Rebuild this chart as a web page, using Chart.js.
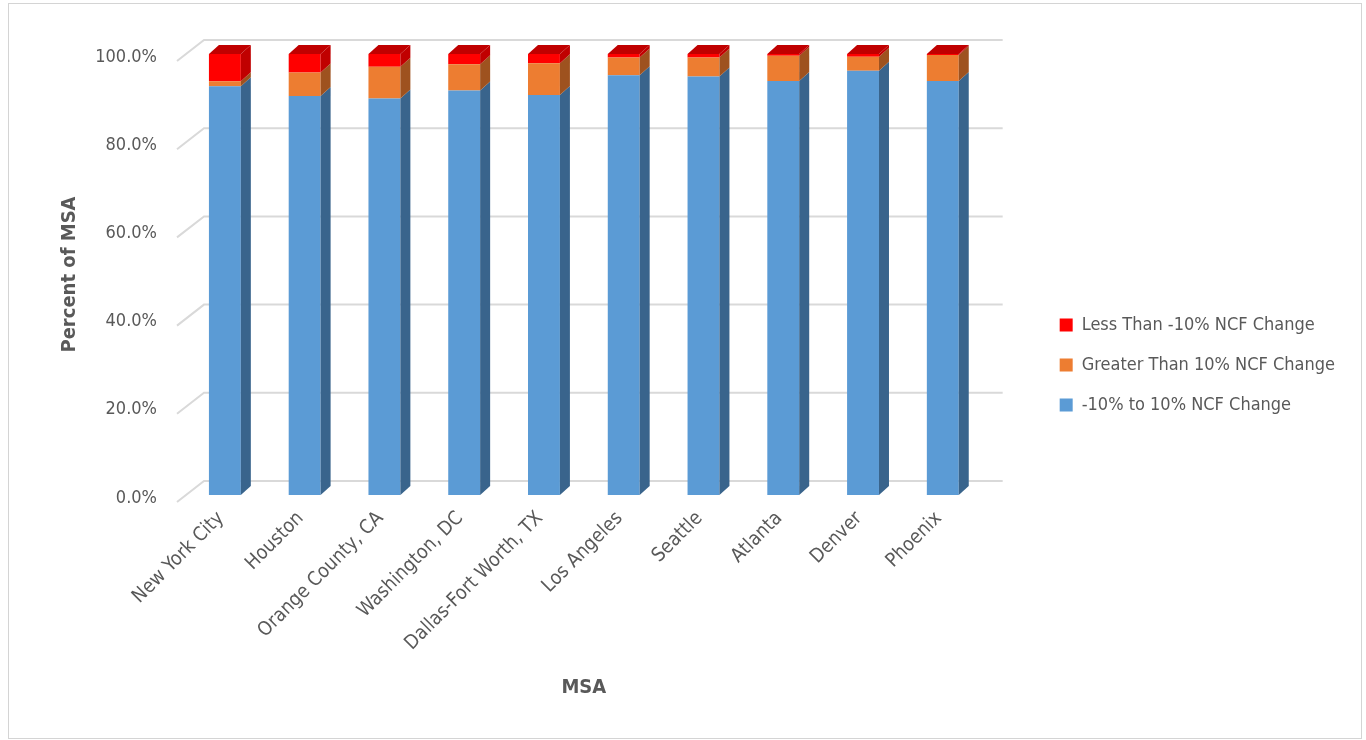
<!DOCTYPE html>
<html>
<head>
<meta charset="utf-8">
<script src="https://cdn.jsdelivr.net/npm/chart.js@4/dist/chart.umd.min.js"></script>
<style>
    body { margin: 0; background: #ffffff; overflow: hidden; }
    #wrap { position: absolute; left: 0; top: 0; width: 1366px; height: 740px; }
    #frame { position: absolute; left: 8px; top: 3px; width: 1354px; height: 736px; box-sizing: border-box; border: 1px solid #d4d4d4; pointer-events: none; }
</style>
</head>
<body>
<div id="wrap">
    <canvas id="chart" width="1366" height="740"></canvas>
    <div id="frame"></div>
</div>
<script>
// categories (MSA)
const msaLabels = ["New York City", "Houston", "Orange County, CA", "Washington, DC", "Dallas-Fort Worth, TX",
                   "Los Angeles", "Seattle", "Atlanta", "Denver", "Phoenix"];

// percent of MSA
const midChange   = [92.7, 90.5, 89.9, 91.7, 90.7, 95.2, 94.9, 93.9, 96.2, 93.9];  // -10% to 10%
const upChange    = [ 1.1,  5.3,  7.2,  6.0,  7.2,  4.0,  4.3,  5.7,  3.2,  5.9];  // > 10%
const downChange  = [ 6.2,  4.2,  2.9,  2.3,  2.1,  0.8,  0.8,  0.4,  0.6,  0.2];  // < -10%

const yTicks = [0, 20, 40, 60, 80, 100];

const FONT = "'Liberation Sans Narrow', 'DejaVu Sans Condensed', 'Liberation Sans', sans-serif";
const GREY = "#595959";

// side / top colours for the fake 3d look
const shade = {
    "-10% to 10% NCF Change": "#39648c",
    "Greater Than 10% NCF Change": "#9e521f",
    "Less Than -10% NCF Change": "#c00000"
};
const DX = 10, DY = 9;

// gridlines like excel's 3d back wall
const wallGrid = {
    id: 'wallGrid',
    beforeDatasetsDraw(chart){
        const {ctx, chartArea} = chart;
        const ys = chart.scales.y;
        ctx.save();
        ctx.strokeStyle = "#d9d9d9";
        ctx.lineWidth = 2;
        ys.ticks.forEach(t => {
            const y = ys.getPixelForValue(t.value);
            ctx.beginPath();
            ctx.moveTo(chartArea.left - 8, y + 7);
            ctx.lineTo(chartArea.left + 19, y - 14);
            ctx.lineTo(chartArea.right + 20, y - 14);
            ctx.stroke();
        });
        ctx.restore();
    }
};

const bars3d = {
    id: 'bars3d',
    afterDatasetsDraw(chart){
        const {ctx} = chart;
        const n = chart.data.datasets.length;
        ctx.save();
        chart.data.datasets.forEach((ds, d) => {
            const meta = chart.getDatasetMeta(d);
            const col = shade[ds.label];
            meta.data.forEach(el => {
                const p = el.getProps(['x', 'y', 'base', 'width'], true);
                const xl = p.x - p.width / 2, xr = p.x + p.width / 2;
                ctx.fillStyle = col;
                ctx.beginPath();
                ctx.moveTo(xr, p.y);
                ctx.lineTo(xr + DX, p.y - DY);
                ctx.lineTo(xr + DX, p.base - DY);
                ctx.lineTo(xr, p.base);
                ctx.closePath();
                ctx.fill();
                if (d === n - 1){
                    ctx.beginPath();
                    ctx.moveTo(xl, p.y);
                    ctx.lineTo(xl + DX, p.y - DY);
                    ctx.lineTo(xr + DX, p.y - DY);
                    ctx.lineTo(xr, p.y);
                    ctx.closePath();
                    ctx.fill();
                }
            });
        });
        ctx.restore();
    }
};

const config = {
    type: 'bar',
    data: {
        labels: msaLabels,
        datasets: [
            { label: "-10% to 10% NCF Change", data: midChange, backgroundColor: "#5b9bd5" },
            { label: "Greater Than 10% NCF Change", data: upChange, backgroundColor: "#ed7d31" },
            { label: "Less Than -10% NCF Change", data: downChange, backgroundColor: "#ff0000" }
        ]
    },
    options: {
        responsive: false,
        animation: false,
        datasets: { bar: { barPercentage: 0.4, categoryPercentage: 1.0, borderWidth: 0 } },
        layout: { padding: { left: 40, top: 54, right: 21, bottom: 20 } },
        scales: {
            x: {
                stacked: true,
                grid: { display: false, drawTicks: false },
                border: { display: false },
                ticks: { color: GREY, font: { family: FONT, size: 19.5 }, maxRotation: 45, minRotation: 45, autoSkip: false, padding: 12, labelOffset: -4 },
                title: { display: true, text: "MSA", color: GREY, font: { family: FONT, size: 20, weight: 'bold' }, padding: { top: 0, bottom: 20 } },
                afterFit: s => { s.height = 225; }
            },
            y: {
                stacked: true,
                min: 0,
                max: 100,
                afterBuildTicks: s => { s.ticks = yTicks.map(v => ({ value: v })); },
                grid: { display: false, drawTicks: false },
                border: { display: false },
                ticks: { color: GREY, font: { family: FONT, size: 18 }, padding: 28, labelOffset: 3,
                         callback: v => v.toFixed(1) + "%" },
                title: { display: true, text: "Percent of MSA", color: GREY, font: { family: FONT, size: 20, weight: 'bold' }, padding: { top: 18, bottom: 0 } },
                afterFit: s => { s.width = 145; }
            },
            // empty space between the plot and the legend
            gap: {
                type: 'linear',
                position: 'right',
                display: false,
                afterFit: s => { s.width = 55; }
            }
        },
        plugins: {
            tooltip: { enabled: false },
            legend: {
                position: 'right',
                align: 'start',
                reverse: true,
                title: { display: true, text: '', font: { size: 10 }, padding: { top: 228, bottom: 0 } },
                labels: { boxWidth: 13, boxHeight: 13, padding: 22, color: GREY, font: { family: FONT, size: 18 } }
            }
        }
    },
    plugins: [wallGrid, bars3d]
};

new Chart(document.getElementById('chart'), config);
</script>
</body>
</html>
